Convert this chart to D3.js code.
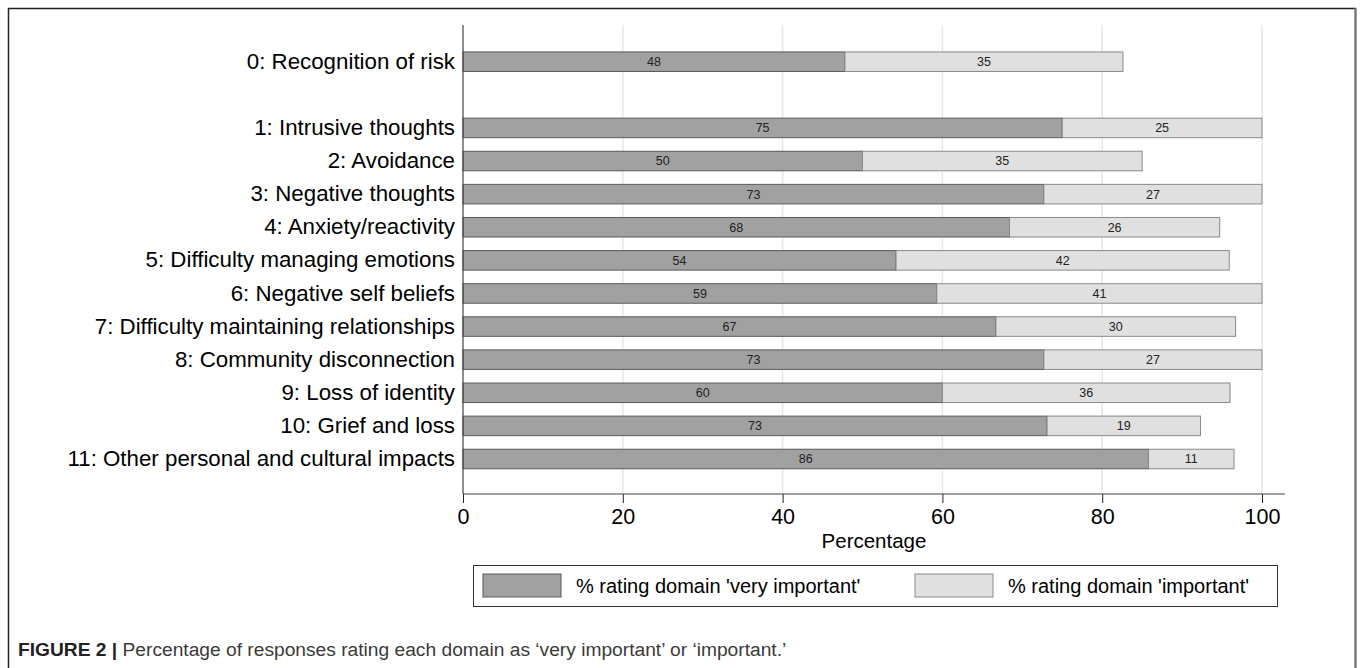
<!DOCTYPE html>
<html>
<head>
<meta charset="utf-8">
<script src="https://cdn.jsdelivr.net/npm/d3@7"></script>
<style>
  body { margin: 0; background: #fff; }
  svg { display: block; font-family: "Liberation Sans", Arial, sans-serif; }
</style>
</head>
<body>
<svg id="chart" width="1360" height="668"></svg>
<script>
// domains shown on the y axis, top to bottom
var categories = [
  '0: Recognition of risk',
  '1: Intrusive thoughts',
  '2: Avoidance',
  '3: Negative thoughts',
  '4: Anxiety/reactivity',
  '5: Difficulty managing emotions',
  '6: Negative self beliefs',
  '7: Difficulty maintaining relationships',
  '8: Community disconnection',
  '9: Loss of identity',
  '10: Grief and loss',
  '11: Other personal and cultural impacts'
];
var veryImportant = [47.8, 75.0, 50.0, 72.7, 68.4, 54.2, 59.3, 66.7, 72.7, 60.0, 73.1, 85.8];
var important     = [34.8, 25.0, 35.0, 27.3, 26.3, 41.7, 40.7, 30.0, 27.3, 36.0, 19.2, 10.7];
var xTicks = [0, 20, 40, 60, 80, 100];
var seriesNames = ["% rating domain 'very important'", "% rating domain 'important'"];

var svg = d3.select('#chart');

// outer frame
svg.append('path')
    .attr('d', 'M8.5,668 V8.5 H1355.5 V668')
    .attr('fill', 'none')
    .attr('stroke', '#222')
    .attr('stroke-width', 1.5);
svg.append('line')
    .attr('x1', 1355.5).attr('x2', 1355.5).attr('y1', 8).attr('y2', 668)
    .attr('stroke', '#777').attr('stroke-width', 2);

// one empty slot between row 0 and the rest
var slots = [categories[0], '__gap__'].concat(categories.slice(1));

var x = d3.scaleLinear().domain([0, 100]).range([463, 1262]);
var y = d3.scaleBand().domain(slots)
    .range([45.15, 475.55])
    .paddingInner(0.41)
    .paddingOuter(0.205);

var plotTop = 25, plotBottom = 494;

// grid
svg.append('g').selectAll('line')
    .data(xTicks.slice(1))
    .join('line')
      .attr('x1', function(d) { return x(d); })
      .attr('x2', function(d) { return x(d); })
      .attr('y1', plotTop)
      .attr('y2', plotBottom)
      .attr('stroke', '#e3e8e8')
      .attr('stroke-width', 1.5);

var rows = categories.map(function(c, i) {
  return { cat: c, a: veryImportant[i], b: important[i] };
});
var fmt = d3.format('.0f');

var bars = svg.append('g').selectAll('g')
    .data(rows)
    .join('g');

bars.append('rect')
    .attr('x', function(d) { return x(0); })
    .attr('y', function(d) { return y(d.cat); })
    .attr('width', function(d) { return x(d.a) - x(0); })
    .attr('height', y.bandwidth())
    .attr('fill', '#a1a1a1')
    .attr('stroke', '#5a5a5a')
    .attr('stroke-width', 1);

bars.append('rect')
    .attr('x', function(d) { return x(d.a); })
    .attr('y', function(d) { return y(d.cat); })
    .attr('width', function(d) { return x(d.a + d.b) - x(d.a); })
    .attr('height', y.bandwidth())
    .attr('fill', '#e0e0e0')
    .attr('stroke', '#8a8a8a')
    .attr('stroke-width', 1);

bars.append('text')
    .attr('x', function(d) { return x(d.a / 2); })
    .attr('y', function(d) { return y(d.cat) + y.bandwidth() / 2; })
    .attr('dy', '0.35em')
    .attr('text-anchor', 'middle')
    .attr('font-size', 12.5)
    .attr('fill', '#222')
    .text(function(d) { return fmt(d.a); });

bars.append('text')
    .attr('x', function(d) { return x(d.a + d.b / 2); })
    .attr('y', function(d) { return y(d.cat) + y.bandwidth() / 2; })
    .attr('dy', '0.35em')
    .attr('text-anchor', 'middle')
    .attr('font-size', 12.5)
    .attr('fill', '#222')
    .text(function(d) { return fmt(d.b); });

// y axis
var yAxis = svg.append('g')
    .attr('transform', 'translate(' + x(0) + ',0)')
    .call(d3.axisLeft(y).tickSize(0).tickPadding(8)
      .tickFormat(function(d) { return d === '__gap__' ? '' : d; }));
yAxis.select('.domain').remove();
yAxis.selectAll('text').attr('font-size', 22.3).attr('fill', '#000')
    .style('font-family', '"Liberation Sans", Arial, sans-serif');
svg.append('line')
    .attr('x1', x(0)).attr('x2', x(0))
    .attr('y1', plotTop).attr('y2', plotBottom)
    .attr('stroke', '#444').attr('stroke-width', 1.2);

// x axis
var xAxis = svg.append('g')
    .attr('transform', 'translate(0,' + plotBottom + ')')
    .call(d3.axisBottom(x).tickValues(xTicks).tickSize(9).tickSizeOuter(0).tickPadding(6));
xAxis.select('.domain').remove();
xAxis.selectAll('line').attr('stroke', '#222');
xAxis.selectAll('text').attr('font-size', 21.5).attr('fill', '#000')
    .style('font-family', '"Liberation Sans", Arial, sans-serif');
svg.append('line')
    .attr('x1', x(0)).attr('x2', x(0) + 822)
    .attr('y1', plotBottom).attr('y2', plotBottom)
    .attr('stroke', '#444').attr('stroke-width', 1.2);

svg.append('text')
    .attr('x', (x(0) + x(0) + 822) / 2)
    .attr('y', 548)
    .attr('text-anchor', 'middle')
    .attr('font-size', 20.5)
    .text('Percentage');

// legend
var legend = svg.append('g');
legend.append('rect')
    .attr('x', 473.5).attr('y', 565.5)
    .attr('width', 804).attr('height', 41)
    .attr('fill', '#fff').attr('stroke', '#333').attr('stroke-width', 1);
var legX = [483, 915];
var legFill = ['#a1a1a1', '#e0e0e0'];
var legStroke = ['#5a5a5a', '#8a8a8a'];
var items = legend.selectAll('g.item')
    .data(seriesNames)
    .join('g')
      .attr('class', 'item')
      .attr('transform', function(d, i) { return 'translate(' + legX[i] + ',574)'; });
items.append('rect')
    .attr('width', 78).attr('height', 23)
    .attr('fill', function(d, i) { return legFill[i]; })
    .attr('stroke', function(d, i) { return legStroke[i]; });
items.append('text')
    .attr('x', 93).attr('y', 11.5).attr('dy', '0.35em')
    .attr('font-size', 20)
    .text(function(d) { return d; });

// caption
var cap = svg.append('text')
    .attr('x', 18).attr('y', 656)
    .attr('font-size', 19.2)
    .attr('fill', '#3a3a3a');
cap.append('tspan').attr('font-weight', 'bold').attr('fill', '#222').text('FIGURE 2 | ');
cap.append('tspan').text('Percentage of responses rating each domain as \u2018very important\u2019 or \u2018important.\u2019');
</script>
</body>
</html>
